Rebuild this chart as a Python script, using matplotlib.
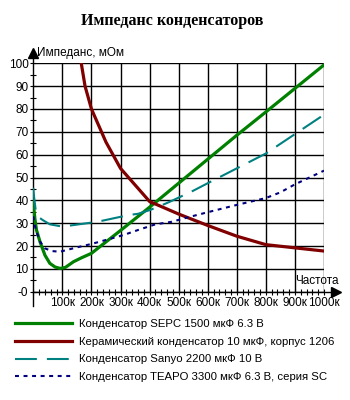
import matplotlib
matplotlib.use("Agg")
import matplotlib.pyplot as plt
from matplotlib.ticker import MultipleLocator

plt.rcParams["font.family"] = ["Liberation Sans", "DejaVu Sans"]

# ---- data (frequency in kHz, impedance in mOhm) ----
sepc_f = [0, 3, 6, 11, 23, 40, 57, 75, 92, 110, 138, 165, 200, 300, 400, 500, 600, 700, 800, 900, 1000]
sepc_z = [40, 35, 31.4, 27, 21.9, 16, 12.4, 10.8, 10.2, 10.6, 13.1, 14.8, 16.8, 26.8, 37, 47.5, 58, 68.5, 78.7, 89, 99.3]

cer_f = [165, 178, 200, 250, 300, 400, 500, 600, 700, 800, 900, 1000]
cer_z = [100, 90, 80, 65.5, 54, 39.5, 34, 29, 24.3, 20.6, 19.2, 17.8]

sanyo_f = [0, 3, 9, 20, 32, 57, 100, 140, 220, 330, 360, 400, 430, 470, 550, 600, 700, 800, 900, 1000]
sanyo_z = [45.5, 41, 35, 32.5, 31.4, 29.5, 28.5, 29.2, 30.6, 33.6, 34.1, 35.7, 37.2, 39.4, 44.2, 47.5, 54, 60.5, 69, 77.5]

teapo_f = [0, 5, 11, 23, 40, 63, 92, 150, 200, 260, 310, 367, 420, 476, 530, 600, 700, 800, 850, 900, 950, 1000]
teapo_z = [33, 29, 26.3, 22, 19, 17.8, 17.5, 19.4, 20.9, 23, 24.8, 27.3, 29.5, 30.6, 32.5, 34.8, 38, 41, 43.5, 47, 50, 53]

labels = ["Конденсатор SEPC 1500 мкФ 6.3 В",
          "Керамический конденсатор 10 мкФ, корпус 1206",
          "Конденсатор Sanyo 2200 мкФ 10 В",
          "Конденсатор TEAPO 3300 мкФ 6.3 В, серия SC"]
xticks = [100, 200, 300, 400, 500, 600, 700, 800, 900, 1000]
xticklabels = ["100к", "200к", "300к", "400к", "500к", "600к", "700к", "800к", "900к", "1000к"]
yticks = [0, 10, 20, 30, 40, 50, 60, 70, 80, 90, 100]
yticklabels = ["-0", "10", "20", "30", "40", "50", "60", "70", "80", "90", "100"]

title = "Импеданс конденсаторов"
ylabel = "Импеданс, мОм"
xlabel = "Частота"

W, H = 350, 400
fig = plt.figure(figsize=(W / 100, H / 100), dpi=100)
x0, x1, yb, yt = 33.3, 324.0, 291.7, 63.3
ax = fig.add_axes([x0 / W, 1 - yb / H, (x1 - x0) / W, (yb - yt) / H])
ax.set_xlim(0, 1000)
ax.set_ylim(0, 100)
for s in ax.spines.values():
    s.set_visible(False)

ax.set_xticks(xticks)
ax.set_xticklabels(xticklabels)
ax.set_yticks(yticks)
ax.set_yticklabels(yticklabels)
ax.xaxis.set_minor_locator(MultipleLocator(20))
ax.yaxis.set_minor_locator(MultipleLocator(5))
ax.tick_params(axis="both", which="both", direction="inout", color="black", width=0.8)
ax.tick_params(axis="x", which="both", length=5)
ax.tick_params(axis="y", which="both", length=4)
ax.tick_params(axis="both", which="major", labelsize=8.5, pad=1.5)
ax.grid(True, which="major", color="black", linewidth=1.0)
ax.set_axisbelow(True)

# axis lines with arrows
ax.plot([0, 0], [-(306 - yb) / (yb - yt), (yb - 57) / (yb - yt)], transform=ax.transAxes,
        color="black", lw=1.0, clip_on=False)
ax.plot([0, (334 - x0) / (x1 - x0)], [0, 0], transform=ax.transAxes,
        color="black", lw=1.0, clip_on=False)
ax.plot([0], [(yb - 53) / (yb - yt)], transform=ax.transAxes, marker="^", ms=7,
        color="black", clip_on=False)
ax.plot([(336 - x0) / (x1 - x0)], [0], transform=ax.transAxes, marker=">", ms=7,
        color="black", clip_on=False)
fig.text(37 / W, 1 - 53 / H, ylabel, fontsize=8.5, ha="left", va="center")
fig.text(339 / W, 1 - 281 / H, xlabel, fontsize=8.5, ha="right", va="center")

# series
h1, = ax.plot(sepc_f, sepc_z, color="#008000", lw=2.3, label=labels[0])
h2, = ax.plot(cer_f, cer_z, color="#800000", lw=2.3, label=labels[1])
h3, = ax.plot(sanyo_f, sanyo_z, color="#008080", lw=1.5, dashes=(10.5, 4.8), label=labels[2])
h4, = ax.plot(teapo_f, teapo_z, color="#000080", lw=1.5, dashes=(1.9, 2.2), label=labels[3])

fig.suptitle(title, x=0.493, y=1 - 21 / H, va="center", fontsize=11.5,
             fontweight="bold", family="Liberation Serif")

fig.legend(handles=[h1, h2, h3, h4], loc="upper left",
           bbox_to_anchor=(15 / W, 1 - 319 / H), frameon=False, fontsize=8.2,
           handlelength=5.0, handletextpad=0.65, labelspacing=0.68, borderpad=0,
           borderaxespad=0)

fig.savefig("out.png", dpi=100)
